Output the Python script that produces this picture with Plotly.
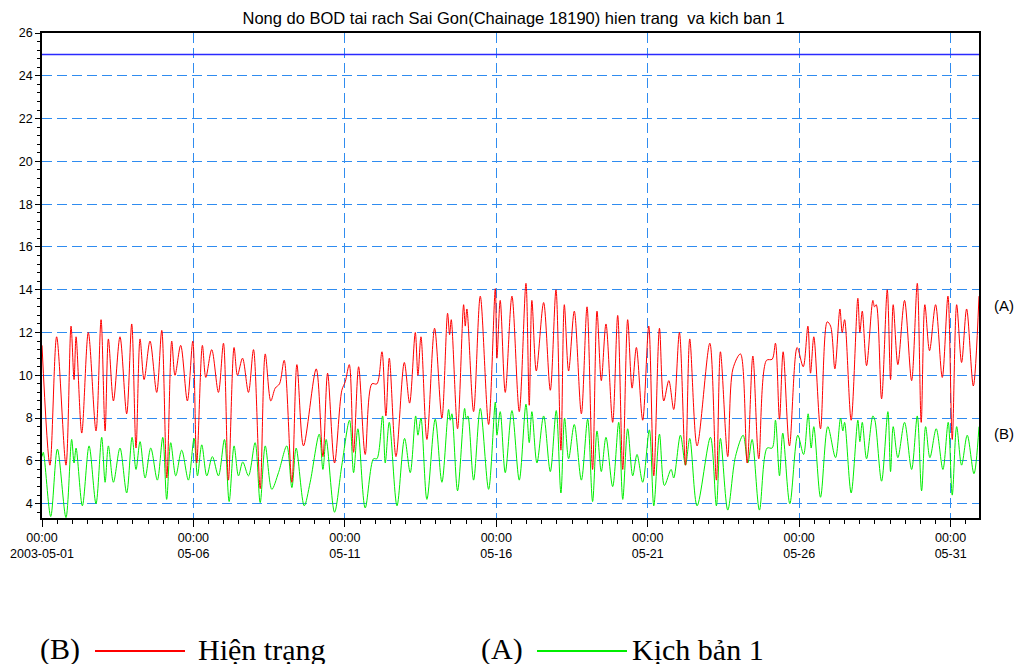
import pandas as pd
import plotly.graph_objects as go

# ---------------- data ----------------
start = pd.Timestamp("2003-05-01 00:00")
end = pd.Timestamp("2003-05-31 22:30")

# Hien trang (red) : hours since start, BOD value
red_hours = [0, 6.3, 11.6, 19.0, 23.0, 25.4, 27.0, 31.5, 36.7, 42.8, 46.8, 50.0, 52.6, 56.6, 61.8, 67.1, 71.1, 74.5, 77.7, 80.9,
             85.6, 90.9, 94.9, 98.9, 102.8, 105.4, 109.9, 115.2, 119.5, 122.6, 127.1, 129.8, 134.5, 139.8, 143.8, 147.7, 152.2,
             154.9, 158.9, 163.6, 167.6, 172.9, 176.9, 181.3, 184.8, 188.2, 191.9, 198.0, 202.0, 207.2, 217.3, 222.6, 226.3, 231.8,
             237.6, 240.3, 243.5, 246.9, 250.9, 256.1, 261.4, 265.4, 269.4, 272.5, 275.2, 280.5, 287.1, 291.3, 295.8, 297.9, 300.3,
             305.0, 311.1, 316.9, 321.4, 323.0, 324.3, 329.3, 334.1, 335.4, 336.7, 342.0, 347.3, 353.9, 359.2, 360.5, 363.1, 367.1,
             372.4, 378.2, 383.5, 386.1, 388.2, 391.7, 397.5, 402.8, 407.3, 411.2, 413.9, 417.3, 421.8, 427.4, 431.9, 436.3, 439.8,
             443.2, 446.9, 452.2,
             456.2, 460.2, 464.1, 467.6, 471.0, 476.0, 480.8, 484.8, 489.3, 492.7, 496.7, 500.6, 505.1, 509.9, 513.3, 519.1, 529.2,
             534.4, 537.6, 543.4, 547.5, 553.5, 558.8, 563.3, 568.0, 574.1, 578.6, 581.2, 584.4, 587.3, 592.3, 598.4, 603.2,
             606.9, 609.0, 611.6, 616.9, 622.2, 624.9, 628.3, 632.3, 634.1, 636.0, 641.2, 646.5, 648.1, 650.0, 653.4, 658.4, 659.7,
             661.1, 665.3, 669.8, 672.4, 674.5, 678.2, 683.5, 689.1, 693.6, 696.7, 699.6, 703.3, 708.1, 713.4, 717.9, 721.3, 724.8,
             728.7, 732.7, 738.0, 742.5]
red_values = [11.4, 5.8, 11.8, 5.8, 12.3, 9.8, 11.8, 7.3, 12.0, 7.4, 12.6, 7.4, 11.7, 8.8, 11.8, 8.2, 12.4, 6.6, 11.7, 9.8,
              11.6, 9.2, 12.1, 5.2, 11.6, 10.0, 11.4, 8.8, 11.6, 5.9, 11.4, 9.9, 11.2, 9.2, 11.5, 5.1, 11.3,
              10.0, 10.8, 9.2, 11.2, 4.7, 11.0, 8.8, 9.4, 9.6, 10.7, 5.0, 10.5, 6.7, 10.3, 6.2, 10.1, 5.9,
              9.3, 9.7, 10.5, 6.4, 10.4, 6.3, 9.6, 9.6, 11.1, 8.1, 10.8, 6.2, 10.6, 8.7, 12.0, 10.0, 11.8,
              7.0, 12.2, 8.0, 12.9, 11.9, 12.6, 7.5, 13.3, 12.3, 13.1, 8.3, 13.7, 7.7, 14.05, 10.8, 13.5, 9.2,
              13.7, 8.3, 14.3, 8.6, 13.5, 10.2, 13.4, 9.3, 14.0, 6.5, 13.3, 10.2, 13.0, 8.2, 13.2, 5.6, 13.0,
              9.75, 12.4, 7.8,
              12.8, 5.6, 12.6, 9.4, 11.3, 7.9, 12.3, 5.3, 12.2, 8.8, 9.75, 8.4, 12.0, 5.8, 11.7, 6.7, 11.5,
              5.1, 11.1, 6.2, 10.3, 11.0, 5.9, 10.9, 6.1, 10.7, 10.75, 11.5, 7.95, 11.1, 6.7, 11.3, 10.4,
              12.3, 10.1, 11.8, 7.5, 12.5, 12.3, 10.3, 13.1, 12.0, 12.6, 7.9, 13.6, 12.0, 13.0, 10.45, 13.5, 13.2,
              13.3, 8.9, 14.0, 9.8, 13.3, 10.5, 13.5, 9.75, 14.3, 7.8, 13.3, 11.15, 13.3, 9.9, 13.7, 7.0, 13.3,
              10.6, 13.1, 9.5, 13.7]

# Kich ban 1 (green)
green_hours = [0, 1.0, 6.9, 12.2, 19.0, 23.5, 25.4, 27.0, 32.0, 37.3, 42.8, 47.3, 50.0, 52.6, 56.6, 61.8, 67.1, 71.4, 74.5, 77.7,
               81.7, 86.2, 91.4, 95.7, 98.8, 102.0, 106.0, 110.7, 116.0, 120.5, 123.2, 126.6, 130.6, 135.0, 139.8, 144.6, 148.3, 152.2,
               155.7, 159.1, 163.6, 168.9, 172.9, 176.9, 182.1, 187.4, 194.0, 198.0, 201.4, 207.8, 212.5, 219.7, 222.6, 225.2,
               231.8, 237.6, 243.7, 246.9, 250.3, 256.1, 262.7, 265.4, 269.9, 272.0, 275.2, 281.3, 287.3, 291.8, 296.1, 297.9, 300.3,
               305.0, 311.6, 316.9, 322.2, 323.5, 324.8, 329.3, 334.9, 336.2, 337.5, 342.0, 347.3, 353.9, 359.2, 360.5, 363.1,
               367.1, 372.4, 378.2, 383.5, 386.1, 388.2, 392.2, 397.5, 402.8, 407.5, 411.2, 414.1, 417.3, 421.8, 427.4, 432.4,
               436.3, 439.8, 443.2, 446.9, 452.2,
               457.0, 460.2, 464.1, 468.1, 471.5, 476.0, 481.3, 484.8, 489.3, 493.2, 498.5, 500.6, 505.9, 509.9, 513.3, 519.1,
               529.7, 534.4, 537.6, 543.4, 549.5, 555.6, 559.3, 562.7, 568.5, 574.6, 578.6, 581.2, 584.4, 587.0, 592.6, 598.9, 603.5,
               607.1, 609.5, 611.6, 616.9, 622.7, 628.8, 632.8, 634.6, 636.0, 641.2, 646.5, 648.1, 650.0, 653.4, 658.4, 660.0,
               665.3, 670.3, 672.4, 674.5, 678.2, 683.5, 689.1, 693.6, 697.0, 700.2, 703.6, 708.6, 713.9, 718.1, 721.3, 724.8,
               728.7, 733.2, 738.5, 742.5]
green_values = [6.2, 6.4, 3.4, 6.55, 3.35, 7.0, 5.9, 6.6, 3.9, 6.7, 4.0, 7.1, 5.0, 6.7, 5.0, 6.6, 4.5, 7.1, 5.6, 6.9,
                5.2, 6.6, 5.1, 7.1, 4.2, 6.85, 5.3, 6.5, 5.1, 7.05, 5.3, 6.75, 5.3, 6.2, 5.3, 7.0, 4.1, 6.7,
                5.3, 5.95, 5.3, 6.85, 4.05, 6.7, 4.67, 5.45, 6.7, 4.75, 6.6, 3.9, 5.0, 7.25, 5.6, 7.0,
                3.6, 5.8, 7.9, 5.45, 7.5, 3.8, 6.1, 6.1, 8.1, 5.9, 7.8, 3.9, 7.05, 5.45, 8.1, 7.2, 8.0,
                4.2, 7.95, 5.0, 8.4, 7.9, 8.2, 4.6, 8.45, 7.95, 8.1, 5.1, 8.45, 4.67, 8.75, 7.2, 8.3,
                5.45, 8.35, 5.1, 8.65, 6.85, 8.3, 5.9, 8.1, 5.5, 8.35, 4.5, 8.0, 6.1, 7.7, 5.1, 7.95,
                4.1, 7.4, 5.5, 7.1, 4.8,
                7.8, 4.2, 7.5, 5.3, 6.3, 5.0, 7.45, 3.9, 7.25, 4.85, 5.6, 5.2, 7.2, 5.8, 7.05, 3.9,
                7.1, 3.9, 7.05, 3.7, 6.2, 7.2, 5.9, 7.0, 3.7, 6.6, 6.6, 7.9, 5.3, 7.3, 4.0, 7.2, 6.3,
                8.2, 6.6, 7.6, 4.3, 7.6, 6.15, 8.0, 7.4, 7.8, 4.5, 7.9, 6.9, 7.8, 6.1, 8.1, 7.9,
                5.05, 8.3, 5.5, 7.6, 6.15, 7.8, 5.6, 8.1, 4.6, 7.6, 6.15, 7.5, 5.6, 7.8, 4.4, 7.6,
                5.8, 7.2, 5.4, 7.6]

limit_value = 25  # horizontal reference line

y_ticks = [4, 6, 8, 10, 12, 14, 16, 18, 20, 22, 24, 26]
x_tick_dates = ["2003-05-01", "2003-05-06", "2003-05-11", "2003-05-16", "2003-05-21", "2003-05-26", "2003-05-31"]
x_tick_text = ["00:00<br>2003-05-01", "00:00<br>05-06", "00:00<br>05-11", "00:00<br>05-16",
               "00:00<br>05-21", "00:00<br>05-26", "00:00<br>05-31"]

title_text = "Nong do BOD tai rach Sai Gon(Chainage 18190) hien trang  va kich ban 1"
legend_red = ("(B)", "Hiện trạng")
legend_green = ("(A)", "Kịch bản 1")

# ---------------- figure ----------------
SANS = "Liberation Sans, Arial, sans-serif"
SERIF = "Liberation Serif, Times New Roman, serif"
GRID = "#2f8cf0"

red_x = [start + pd.Timedelta(hours=h) for h in red_hours]
green_x = [start + pd.Timedelta(hours=h) for h in green_hours]

fig = go.Figure()
fig.add_trace(go.Scatter(x=[start, end], y=[limit_value, limit_value], mode="lines",
                         line=dict(color="#2a2aff", width=1.5), showlegend=False, hoverinfo="skip"))
fig.add_trace(go.Scatter(x=green_x, y=green_values, mode="lines",
                         line=dict(color="#00ee00", width=1, shape="spline", smoothing=0.9),
                         name=legend_green[1], showlegend=False))
fig.add_trace(go.Scatter(x=red_x, y=red_values, mode="lines",
                         line=dict(color="#ff0000", width=1, shape="spline", smoothing=0.9),
                         name=legend_red[1], showlegend=False))

fig.update_layout(
    width=1021, height=664,
    margin=dict(l=42, r=42, t=33, b=146, pad=0),
    paper_bgcolor="white", plot_bgcolor="white",
    font=dict(family=SANS, size=12.5, color="black"),
    title=dict(text=title_text, x=0.503, xanchor="center", y=1 - 18 / 664, yanchor="middle",
               font=dict(family=SANS, size=16.5, color="black")),
)

fig.update_xaxes(
    type="date", range=[start, end], automargin=False,
    tickmode="array", tickvals=x_tick_dates, ticktext=x_tick_text,
    ticks="outside", ticklen=7, tickwidth=1, tickcolor="black",
    showline=True, linecolor="black", linewidth=1.5, mirror=True,
    showgrid=True, gridcolor=GRID, gridwidth=1, griddash="10px,5px",
    minor=dict(dtick=12 * 3600 * 1000, tick0="2003-05-01", ticks="outside", ticklen=4,
               tickcolor="black", showgrid=False),
    zeroline=False,
)
fig.update_yaxes(
    range=[3.33, 26], automargin=False,
    tickmode="array", tickvals=y_ticks,
    ticks="outside", ticklen=5, tickwidth=1, tickcolor="black",
    showline=True, linecolor="black", linewidth=1.5, mirror=True,
    showgrid=True, gridcolor=GRID, gridwidth=1, griddash="10px,5px",
    minor=dict(dtick=0.4, tick0=0, ticks="outside", ticklen=3, tickcolor="black", showgrid=False),
    zeroline=False,
)

# series labels on the right
fig.add_annotation(x=1.027, xref="paper", y=13.25, yref="y", text="(A)", showarrow=False,
                   font=dict(family=SANS, size=15), xanchor="center", yanchor="middle")
fig.add_annotation(x=1.027, xref="paper", y=7.3, yref="y", text="(B)", showarrow=False,
                   font=dict(family=SANS, size=15), xanchor="center", yanchor="middle")

# legend at the bottom (text + coloured line samples)
def px_x(p):
    return (p - 42) / 937.0

def px_y(p):
    return (518 - p) / 485.0

leg_y = px_y(649)
for label, name, color, x_lab, x0, x1, x_name in [
    (legend_red[0], legend_red[1], "#ff0000", 38, 95, 185, 196),
    (legend_green[0], legend_green[1], "#00ee00", 479, 537, 627, 630),
]:
    fig.add_annotation(x=px_x(x_lab), xref="paper", y=leg_y, yref="paper", text=label, showarrow=False,
                       xanchor="left", yanchor="middle", font=dict(family=SERIF, size=30))
    fig.add_annotation(x=px_x(x_name), xref="paper", y=leg_y, yref="paper", text=name, showarrow=False,
                       xanchor="left", yanchor="middle", font=dict(family=SERIF, size=30))
    fig.add_shape(type="line", xref="paper", yref="paper", x0=px_x(x0), x1=px_x(x1),
                  y0=px_y(651), y1=px_y(651), line=dict(color=color, width=2))

fig.write_html("out.html", config={"displayModeBar": False},
               post_script="document.body.style.margin='0px';")
